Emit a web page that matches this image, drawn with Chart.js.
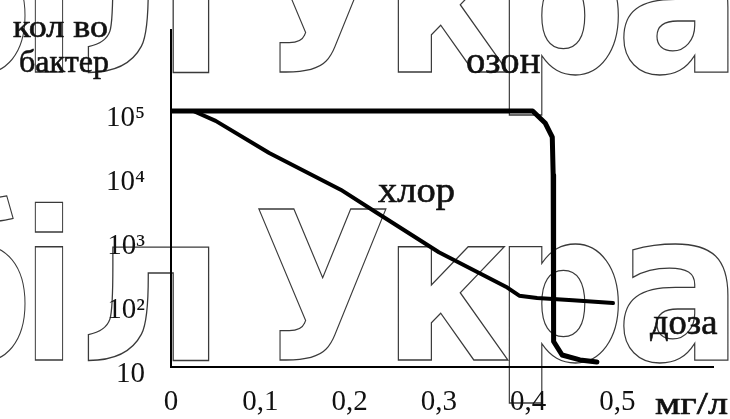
<!DOCTYPE html>
<html>
<head>
<meta charset="utf-8">
<script src="https://cdn.jsdelivr.net/npm/chart.js@4/dist/chart.umd.min.js"></script>
<style>
  html, body { margin: 0; padding: 0; background: #fff; }
  canvas { display: block; }
</style>
</head>
<body>
<canvas id="chart" width="730" height="419"></canvas>
<script>
// Bacteria count vs disinfectant dose: chlorine and ozone.

// dose axis (mg/l)
const doseTicks  = [0, 0.1, 0.2, 0.3, 0.4, 0.5];
const doseLabels = ['0', '0,1', '0,2', '0,3', '0,4', '0,5'];

// count axis (log)
const countTicks  = [10, 100, 1000, 10000, 100000];
const countLabels = ['10', '10²', '10³', '10⁴', '10⁵'];

// chlorine curve
const chlorDose  = [0.025, 0.05, 0.11, 0.19, 0.23, 0.30, 0.375, 0.39, 0.41, 0.45, 0.495];
const chlorCount = [100000, 70000, 22000, 5900, 2600, 620, 180, 130, 120, 110, 100];

// ozone curve
const ozoneDose  = [0, 0.405, 0.419, 0.427, 0.428, 0.4285, 0.438, 0.458, 0.477];
const ozoneCount = [100000, 100000, 65000, 39000, 10000, 25, 15.4, 12.9, 12];

const SERIF = '"Liberation Serif", "DejaVu Serif", serif';

function toPoints(xs, ys) {
  return xs.map((x, i) => ({ x, y: ys[i] }));
}

// draws text squeezed/stretched so its ink spans left..right
function fitText(ctx, text, left, right, baseline, font, mode) {
  ctx.font = font;
  const m = ctx.measureText(text);
  const ink = m.actualBoundingBoxLeft + m.actualBoundingBoxRight;
  const sx = (right - left) / ink;
  ctx.save();
  ctx.translate(left + m.actualBoundingBoxLeft * sx, baseline);
  ctx.scale(sx, 1);
  if (mode === 'outline') {
    ctx.strokeText(text, 0, 0);
  } else {
    ctx.fillText(text, 0, 0);
    ctx.strokeText(text, 0, 0); // thin stroke makes the serif a bit heavier
  }
  ctx.restore();
}

/* ------------------------- background stamp text ------------------------- */
const stampPlugin = {
  id: 'stamp',
  beforeDraw(chart) {
    const ctx = chart.ctx;
    ctx.save();
    ctx.fillStyle = '#fff';
    ctx.fillRect(0, 0, chart.width, chart.height);
    ctx.strokeStyle = '#3a3a3a';
    ctx.lineWidth = 1.3;
    ctx.textAlign = 'left';
    ctx.textBaseline = 'alphabetic';
    const glyphs = [
      ['б', -75, 25], ['і', 35, 63], ['л', 88, 209], ['У', 258, 386],
      ['к', 398, 508], ['р', 509, 619], ['а', 623, 728], ['ї', 734, 800]
    ];
    [72, 360].forEach(base => {
      glyphs.forEach(([ch, l, r]) => {
        fitText(ctx, ch, l, r, base, 'bold 206px "DejaVu Sans"', 'outline');
      });
    });
    ctx.restore();
  }
};

/* ----------------------------- curve captions ---------------------------- */
const captionPlugin = {
  id: 'captions',
  afterDraw(chart) {
    const ctx = chart.ctx;
    ctx.save();
    ctx.fillStyle = '#111';
    ctx.strokeStyle = '#111';
    ctx.lineWidth = 0.6;
    ctx.textAlign = 'left';
    ctx.textBaseline = 'alphabetic';
    fitText(ctx, 'кол во', 13, 107, 37, `32px ${SERIF}`);
    fitText(ctx, 'бактер', 20, 108, 72, `32px ${SERIF}`);
    fitText(ctx, 'озон', 467, 540, 73, `38px ${SERIF}`);
    fitText(ctx, 'хлор', 378, 454, 202, `36px ${SERIF}`);
    fitText(ctx, 'доза', 650, 718, 334, `35px ${SERIF}`);
    fitText(ctx, 'мг/л', 655, 728, 414, `32px ${SERIF}`);
    ctx.restore();
  }
};

new Chart(document.getElementById('chart'), {
  type: 'line',
  data: {
    datasets: [
      {
        label: 'озон',
        data: toPoints(ozoneDose, ozoneCount),
        borderColor: '#000',
        borderWidth: 5,
        pointRadius: 0,
        tension: 0,
        borderJoinStyle: 'round',
        borderCapStyle: 'round'
      },
      {
        label: 'хлор',
        data: toPoints(chlorDose, chlorCount),
        borderColor: '#000',
        borderWidth: 4,
        pointRadius: 0,
        tension: 0,
        borderJoinStyle: 'round',
        borderCapStyle: 'round'
      }
    ]
  },
  options: {
    responsive: false,
    animation: false,
    devicePixelRatio: 1,
    layout: { padding: { top: 30, right: 17, left: 0, bottom: 0 } },
    plugins: { legend: { display: false }, tooltip: { enabled: false } },
    scales: {
      x: {
        type: 'linear',
        min: 0,
        max: 0.607,
        afterBuildTicks: s => { s.ticks = doseTicks.map(v => ({ value: v })); },
        afterFit: s => { s.height = 52; s.paddingLeft = 0; s.paddingRight = 0; },
        grid: { drawOnChartArea: false, drawTicks: false },
        border: { display: true, color: '#000', width: 2 },
        ticks: {
          padding: 18,
          color: '#111',
          font: { family: SERIF, size: 29 },
          maxRotation: 0,
          autoSkip: false,
          callback: v => doseLabels[doseTicks.indexOf(v)]
        }
      },
      y: {
        type: 'logarithmic',
        min: 10,
        max: 1.843e6,
        afterBuildTicks: s => { s.ticks = countTicks.map(v => ({ value: v })); },
        afterFit: s => { s.width = 171; s.paddingTop = 0; s.paddingBottom = 0; },
        grid: { drawOnChartArea: false, drawTicks: false },
        border: { display: true, color: '#000', width: 2 },
        ticks: {
          padding: 26,
          labelOffset: 7,
          color: '#111',
          font: { family: SERIF, size: 29 },
          autoSkip: false,
          callback: v => countLabels[countTicks.indexOf(v)]
        }
      }
    }
  },
  plugins: [stampPlugin, captionPlugin]
});
</script>
</body>
</html>
